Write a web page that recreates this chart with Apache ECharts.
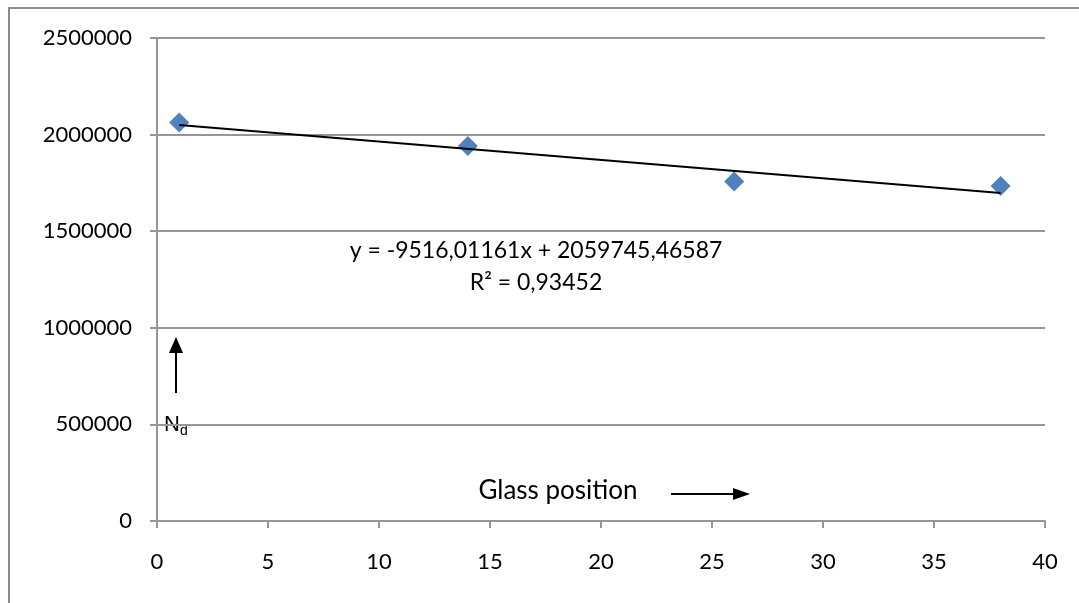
<!DOCTYPE html>
<html>
<head>
<meta charset="utf-8">
<script src="https://cdn.jsdelivr.net/npm/echarts@6/dist/echarts.min.js"></script>
<style>
html,body{margin:0;padding:0;background:#fff}
#chart{width:1079px;height:603px}
</style>
</head>
<body>
<div id="chart"></div>
<script>
// measured points (glass position, Nd)
var positions = [1, 14, 26, 38]
var ndValues = [2063000, 1941000, 1757000, 1734000]
// trendline endpoints taken from the equation shown on the chart
var trendX = [1, 38]
var trendY = [2050229, 1698137]
var yTicks = [0, 500000, 1000000, 1500000, 2000000, 2500000]
var xTicks = [0, 5, 10, 15, 20, 25, 30, 35, 40]

var chart = echarts.init(document.getElementById('chart'))
var font = 'Lato, "Open Sans", sans-serif'

var option = {
	animation: false,
	grid: {
		left: 157,
		right: 34,
		top: 38,
		bottom: 82
	},
	xAxis: {
		type: 'value',
		min: 0,
		max: 40,
		interval: 5,
		axisLine: { lineStyle: { color: '#969696', width: 2 } },
		axisTick: { show: true, length: 7, lineStyle: { color: '#969696', width: 2 } },
		axisLabel: {
			color: '#000', fontSize: 22, fontFamily: font, margin: 30,
			formatter: function(v) { return String(v) }
		},
		splitLine: { show: false }
	},
	yAxis: {
		type: 'value',
		min: 0,
		max: 2500000,
		interval: 500000,
		axisLine: { show: true, lineStyle: { color: '#969696', width: 2 } },
		axisTick: { show: true, length: 7, lineStyle: { color: '#969696', width: 2 } },
		axisLabel: {
			color: '#000', fontSize: 22, fontFamily: font, margin: 25,
			formatter: function(v) { return String(v) }
		},
		splitLine: { show: true, lineStyle: { color: '#969696', width: 2 } }
	},
	series: [
		{
			type: 'line',
			data: trendX.map(function(x, i) { return [x, trendY[i]] }),
			symbol: 'none',
			lineStyle: { color: '#000', width: 2 },
			z: 3
		},
		{
			type: 'scatter',
			data: positions.map(function(x, i) { return [x, ndValues[i]] }),
			symbol: 'diamond',
			symbolSize: [20, 20],
			itemStyle: { color: '#4F81BD', opacity: 1 },
			z: 2
		}
	],
	graphic: [
		// outer chart frame
		{
			type: 'rect',
			shape: { x: 9, y: 8, width: 1090, height: 620 },
			style: { fill: 'none', stroke: '#8c8c8c', lineWidth: 2 },
			silent: true
		},
		{
			type: 'text',
			x: 536, y: 251,
			style: {
				text: 'y = -9516,01161x + 2059745,46587',
				fill: '#000', fontSize: 23, fontFamily: font,
				align: 'center', verticalAlign: 'middle'
			}
		},
		{
			type: 'text',
			x: 536, y: 283,
			style: {
				text: 'R² = 0,93452',
				fill: '#000', fontSize: 23, fontFamily: font,
				align: 'center', verticalAlign: 'middle'
			}
		},
		{
			type: 'text',
			x: 558, y: 491,
			style: {
				text: 'Glass position',
				fill: '#000', fontSize: 26, fontFamily: font,
				align: 'center', verticalAlign: 'middle'
			}
		},
		// arrow next to "Glass position"
		{
			type: 'line',
			shape: { x1: 671, y1: 494, x2: 735, y2: 494 },
			style: { stroke: '#000', lineWidth: 2 }
		},
		{
			type: 'polygon',
			shape: { points: [[733, 488], [750, 494], [733, 500]] },
			style: { fill: '#000' }
		},
		// Nd arrow
		{
			type: 'line',
			shape: { x1: 176, y1: 393, x2: 176, y2: 352 },
			style: { stroke: '#000', lineWidth: 2 }
		},
		{
			type: 'polygon',
			shape: { points: [[169, 353], [176, 337], [183, 353]] },
			style: { fill: '#000' }
		},
		{
			type: 'text',
			x: 164, y: 425,
			style: {
				text: '{n|N}{d|d}',
				rich: {
					n: { fontSize: 22, fontFamily: '"Liberation Sans", Arial, sans-serif', fill: '#000' },
					d: { fontSize: 14, fontFamily: '"Liberation Sans", Arial, sans-serif', fill: '#000', padding: [12, 0, 0, 0] }
				},
				verticalAlign: 'middle'
			}
		}
	]
}

chart.setOption(option)
</script>
</body>
</html>
